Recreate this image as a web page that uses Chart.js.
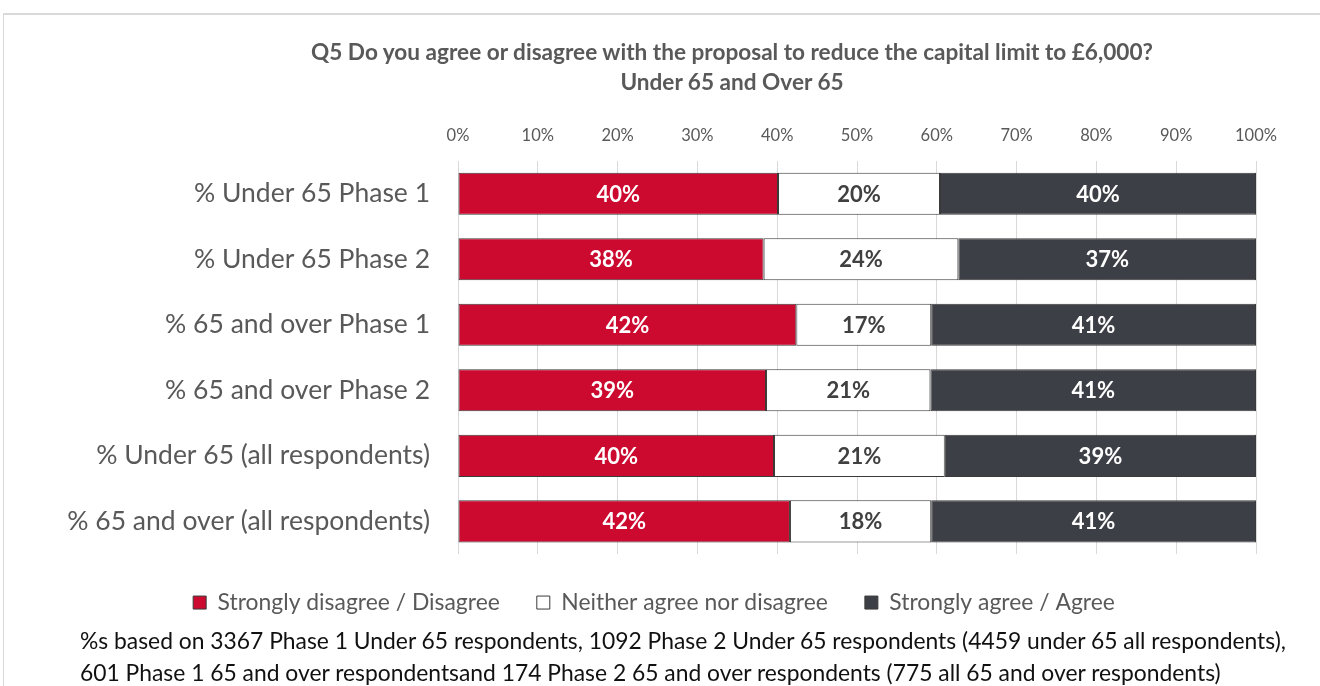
<!DOCTYPE html>
<html>
<head>
<meta charset="utf-8">
<script src="https://cdn.jsdelivr.net/npm/chart.js@4"></script>
<style>
  html, body { margin: 0; padding: 0; background: #fff; }
  body { width: 1320px; height: 686px; position: relative; overflow: hidden; font-family: Lato, "Open Sans", sans-serif; }
  #frame { position: absolute; left: 3px; top: 13px; width: 1330px; height: 700px; border-top: 2px solid #d9d9d9; border-left: 1px solid #d9d9d9; box-sizing: border-box; }
  #title { position: absolute; left: 0; width: 1464px; top: 37px; text-align: center; font-weight: bold; font-size: 22.6px; line-height: 30px; color: #595959; }
  #note { position: absolute; left: 80px; top: 624px; font-size: 22.85px; line-height: 32px; color: #111; white-space: nowrap; }
  #wrap { position: absolute; left: 0; top: 0; width: 1320px; height: 686px; }
</style>
</head>
<body>
<div id="frame"></div>
<div id="wrap"><canvas id="c" width="1320" height="686"></canvas></div>
<div id="title">Q5 Do you agree or disagree with the proposal to reduce the capital limit to £6,000?<br>Under 65 and Over 65</div>
<div id="note">%s based on 3367 Phase 1 Under 65 respondents, 1092 Phase 2 Under 65 respondents (4459 under 65 all respondents),<br>601 Phase 1 65 and over respondentsand 174 Phase 2 65 and over respondents (775 all 65 and over respondents)</div>
<script>
const categories = [
  "% Under 65 Phase 1",
  "% Under 65 Phase 2",
  "% 65 and over Phase 1",
  "% 65 and over Phase 2",
  "% Under 65 (all respondents)",
  "% 65 and over (all respondents)"
];
const seriesNames = ["Strongly disagree / Disagree", "Neither agree nor disagree", "Strongly agree / Agree"];
const disagree = [40.1, 38.3, 42.4, 38.6, 39.6, 41.6];
const neither  = [20.3, 24.4, 16.9, 20.6, 21.4, 17.7];
const agree    = [39.6, 37.3, 40.7, 40.8, 39.0, 40.7];
const xTicks = [0, 10, 20, 30, 40, 50, 60, 70, 80, 90, 100];

const seriesColors = ["#cc0a2f", "#ffffff", "#3c3f45"];
const labelColors = ["#ffffff", "#404040", "#ffffff"];
const FONT = "Lato, 'Open Sans', sans-serif";

const barLabels = {
  id: "barLabels",
  afterDatasetsDraw(chart) {
    const ctx = chart.ctx;
    ctx.save();
    ctx.font = "bold 22px " + FONT;
    ctx.textAlign = "center";
    ctx.textBaseline = "middle";
    chart.data.datasets.forEach((ds, di) => {
      const meta = chart.getDatasetMeta(di);
      meta.data.forEach((el, i) => {
        const v = ds.data[i];
        ctx.fillStyle = labelColors[di];
        ctx.fillText(Math.round(v) + "%", (el.x + el.base) / 2, el.y + 1);
      });
    });
    ctx.restore();
  }
};

const mk = (label, data, i) => ({
  label, data,
  backgroundColor: seriesColors[i],
  borderColor: "#3a3a3a",
  borderWidth: 1,
  borderSkipped: false,
  categoryPercentage: 1,
  barPercentage: 0.643
});

new Chart(document.getElementById("c"), {
  type: "bar",
  data: {
    labels: categories,
    datasets: [mk(seriesNames[0], disagree, 0), mk(seriesNames[1], neither, 1), mk(seriesNames[2], agree, 2)]
  },
  options: {
    indexAxis: "y",
    responsive: false,
    animation: false,
    devicePixelRatio: 1,
    layout: { padding: { top: 100, left: 52, right: 64, bottom: 62 } },
    scales: {
      x: {
        position: "top",
        stacked: true,
        min: 0, max: 100,
        afterBuildTicks(scale) { scale.ticks = xTicks.map(v => ({ value: v })); },
        afterFit(scale) { scale.height = 61; },
        ticks: {
          callback: v => v + "%",
          color: "#595959",
          font: { family: FONT, size: 16.5 },
          padding: 15,
          maxRotation: 0
        },
        grid: { color: "#d9d9d9", drawTicks: false, lineWidth: 1 },
        border: { display: false }
      },
      y: {
        stacked: true,
        afterFit(scale) { scale.width = 406; },
        ticks: {
          color: "#595959",
          font: { family: FONT, size: 26.5 },
          padding: 28
        },
        grid: { display: false, drawTicks: false },
        border: { display: false }
      }
    },
    plugins: {
      legend: {
        position: "bottom",
        labels: {
          boxWidth: 13, boxHeight: 13,
          padding: 37,
          color: "#595959",
          font: { family: FONT, size: 22.9 }
        }
      },
      title: { display: false },
      tooltip: { enabled: false }
    }
  },
  plugins: [barLabels]
});
</script>
</body>
</html>
